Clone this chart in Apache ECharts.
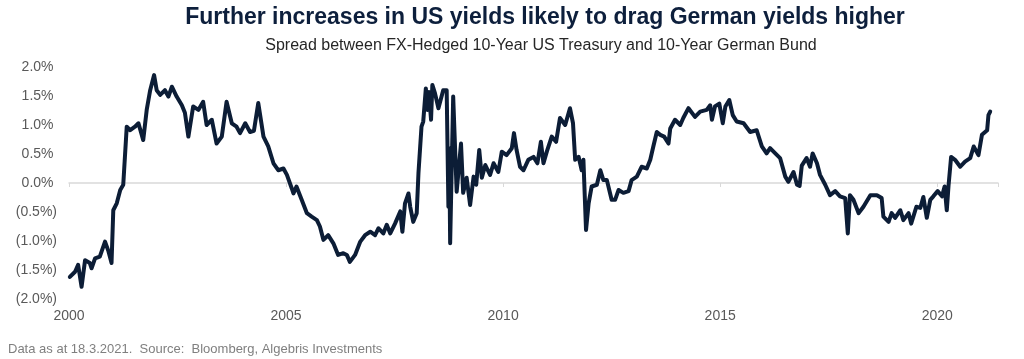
<!DOCTYPE html>
<html>
<head>
<meta charset="utf-8">
<script src="https://cdn.jsdelivr.net/npm/echarts@6/dist/echarts.min.js"></script>
<style>html,body{margin:0;padding:0;background:#fff}#c{width:1024px;height:359px}</style>
</head>
<body>
<div id="c"></div>
<script>
// Decimal-year dates and spread values (%)
const dates = [
2000.02,2000.14,2000.21,2000.29,2000.37,2000.48,2000.52,2000.60,2000.71,2000.83,2000.91,2000.98,
2001.02,2001.10,2001.18,2001.25,2001.29,2001.33,2001.41,2001.52,2001.60,2001.71,2001.79,2001.87,2001.96,
2002.02,2002.10,2002.21,2002.29,2002.37,2002.48,2002.60,2002.67,2002.75,2002.86,2002.98,
2003.09,2003.17,2003.29,2003.40,2003.52,2003.63,2003.75,2003.86,2003.94,
2004.06,2004.17,2004.26,2004.36,2004.48,2004.59,2004.71,2004.82,2004.94,
2005.02,2005.13,2005.17,2005.24,2005.36,2005.48,2005.59,2005.71,2005.78,2005.86,2005.97,
2006.09,2006.20,2006.32,2006.40,2006.47,2006.59,2006.71,2006.82,2006.94,
2007.05,2007.13,2007.24,2007.32,2007.40,2007.51,2007.63,2007.68,2007.74,2007.82,2007.86,2007.93,
2008.01,2008.05,2008.12,2008.16,2008.22,2008.26,2008.29,2008.34,2008.37,2008.43,2008.51,2008.62,2008.70,
2008.74,2008.76,2008.78,2008.85,2008.93,
2009.03,2009.08,2009.16,2009.24,2009.32,2009.38,2009.45,2009.51,2009.59,2009.70,2009.78,2009.89,2009.97,
2010.08,2010.20,2010.25,2010.31,2010.39,2010.47,2010.58,2010.70,2010.79,2010.87,2010.93,
2011.01,2011.12,2011.22,2011.31,2011.43,2011.54,2011.61,2011.66,2011.74,2011.81,2011.85,2011.91,2011.97,
2012.04,2012.16,2012.24,2012.31,2012.39,2012.50,2012.58,2012.66,2012.77,2012.89,2012.96,
2013.08,2013.19,2013.31,2013.39,2013.46,2013.54,2013.62,2013.71,2013.81,2013.85,2013.96,
2014.08,2014.15,2014.27,2014.42,2014.54,2014.69,2014.77,2014.81,2014.88,2014.98,
2015.06,2015.12,2015.21,2015.29,2015.38,2015.54,2015.69,2015.84,2015.96,
2016.07,2016.15,2016.27,2016.38,2016.50,2016.57,2016.69,2016.77,2016.83,2016.88,2016.99,
2017.07,2017.13,2017.23,2017.30,2017.42,2017.53,2017.65,2017.76,2017.88,2017.94,2017.99,
2018.07,2018.19,2018.30,2018.46,2018.61,2018.72,2018.76,2018.88,2018.95,
2019.03,2019.15,2019.22,2019.34,2019.40,2019.52,2019.61,2019.68,2019.76,2019.84,2019.91,
2020.01,2020.11,2020.17,2020.22,2020.26,2020.32,2020.41,2020.53,2020.64,2020.76,2020.84,2020.95,
2021.03,2021.15,2021.18,2021.22
];
const values = [
-1.62,-1.53,-1.41,-1.79,-1.33,-1.38,-1.47,-1.30,-1.27,-1.01,-1.18,-1.38,
-0.47,-0.35,-0.12,-0.03,0.00,0.97,0.91,0.97,1.03,0.74,1.26,1.60,1.86,
1.60,1.52,1.60,1.49,1.66,1.49,1.34,1.21,0.80,1.32,1.26,
1.40,1.00,1.09,0.68,0.80,1.40,1.03,0.97,0.86,
1.03,0.88,0.90,1.38,0.80,0.63,0.34,0.22,0.25,
0.14,-0.09,-0.18,-0.06,-0.29,-0.52,-0.58,-0.64,-0.75,-0.98,-0.90,
-1.04,-1.24,-1.21,-1.24,-1.36,-1.24,-1.01,-0.90,-0.84,
-0.90,-0.78,-0.87,-0.72,-0.87,-0.70,-0.49,-0.84,-0.35,-0.18,-0.41,-0.67,
-0.52,0.17,0.97,1.06,1.63,1.26,1.57,1.09,1.69,1.55,1.29,1.60,1.60,
-0.41,0.60,-1.04,1.49,-0.15,
0.68,-0.17,0.09,-0.38,0.11,-0.03,0.57,0.09,0.31,0.14,0.34,0.19,0.54,
0.48,0.60,0.86,0.57,0.28,0.22,0.40,0.45,0.34,0.71,0.34,
0.55,0.80,0.71,1.12,1.00,1.29,1.03,0.40,0.45,0.22,0.40,-0.81,-0.35,
-0.06,-0.03,0.22,0.05,0.05,-0.29,-0.29,-0.12,-0.17,-0.14,0.05,
0.11,0.28,0.25,0.40,0.63,0.88,0.83,0.80,0.68,0.94,1.09,
1.00,1.12,1.29,1.14,1.23,1.26,1.34,1.09,1.32,1.37,
1.03,1.32,1.43,1.17,1.06,1.03,0.88,0.91,0.63,
0.51,0.60,0.51,0.43,0.11,0.02,0.19,-0.03,-0.05,0.30,0.43,
0.28,0.51,0.34,0.14,-0.03,-0.21,-0.14,-0.23,-0.26,-0.87,-0.21,
-0.29,-0.52,-0.41,-0.21,-0.21,-0.26,-0.58,-0.67,-0.52,
-0.60,-0.47,-0.64,-0.52,-0.70,-0.41,-0.43,-0.24,-0.60,-0.29,-0.23,
-0.14,-0.23,-0.06,-0.47,-0.05,0.45,0.40,0.28,0.37,0.43,0.63,0.48,
0.83,0.91,1.17,1.23
];
const yearTicks = [2000, 2005, 2010, 2015, 2020];
const titleText = 'Further increases in US yields likely to drag German yields higher';
const subtitleText = 'Spread between FX-Hedged 10-Year US Treasury and 10-Year German Bund';
const footerText = 'Data as at 18.3.2021.  Source:  Bloomberg, Algebris Investments';

const FONT = '"Liberation Sans", Arial, sans-serif';
const seriesData = dates.map((d, i) => [d, values[i]]);

const chart = echarts.init(document.getElementById('c'), null, {renderer: 'canvas'});
chart.setOption({
  animation: false,
  backgroundColor: '#ffffff',
  textStyle: {fontFamily: FONT},
  grid: {left: 69, right: 26, top: 67, bottom: 60, containLabel: false},
  xAxis: [
    {
      type: 'value', position: 'top', min: 2000, max: 2021.4, interval: 5,
      axisLine: {show: true, onZero: true, lineStyle: {color: '#d9d9d9', width: 1.5}},
      axisTick: {show: true, inside: true, length: 4, lineStyle: {color: '#d9d9d9'}},
      axisLabel: {show: false},
      splitLine: {show: false}
    },
    {
      type: 'value', position: 'bottom', min: 2000, max: 2021.4, interval: 5,
      axisLine: {show: false}, axisTick: {show: false}, splitLine: {show: false},
      axisLabel: {
        color: '#595959', fontSize: 14, fontFamily: FONT, margin: 10,
        showMaxLabel: false,
        formatter: v => yearTicks.indexOf(Math.round(v)) >= 0 ? String(Math.round(v)) : ''
      }
    }
  ],
  yAxis: {
    type: 'value', min: -2, max: 2, interval: 0.5,
    axisLine: {show: false}, axisTick: {show: false}, splitLine: {show: false},
    axisLabel: {
      color: '#595959', fontSize: 14, fontFamily: FONT, margin: 12,
      formatter: v => v < 0 ? '(' + Math.abs(v).toFixed(1) + '%)' : v.toFixed(1) + '%\u2005'
    }
  },
  series: [{
    type: 'line', xAxisIndex: 0, data: seriesData, showSymbol: false, symbol: 'none',
    lineStyle: {color: '#0c1d36', width: 4, cap: 'round', join: 'round'}
  }],
  graphic: [
    {type: 'text', x: 545, y: 18,
     style: {text: titleText, fill: '#0d1f3c', font: 'bold 23px ' + FONT, textAlign: 'center', textVerticalAlign: 'middle'}},
    {type: 'text', x: 541, y: 46,
     style: {text: subtitleText, fill: '#262626', font: '16px ' + FONT, textAlign: 'center', textVerticalAlign: 'middle'}},
    {type: 'text', x: 8, y: 349,
     style: {text: footerText, fill: '#7f7f7f', font: '13px ' + FONT, textAlign: 'left', textVerticalAlign: 'middle'}}
  ]
});
</script>
</body>
</html>
